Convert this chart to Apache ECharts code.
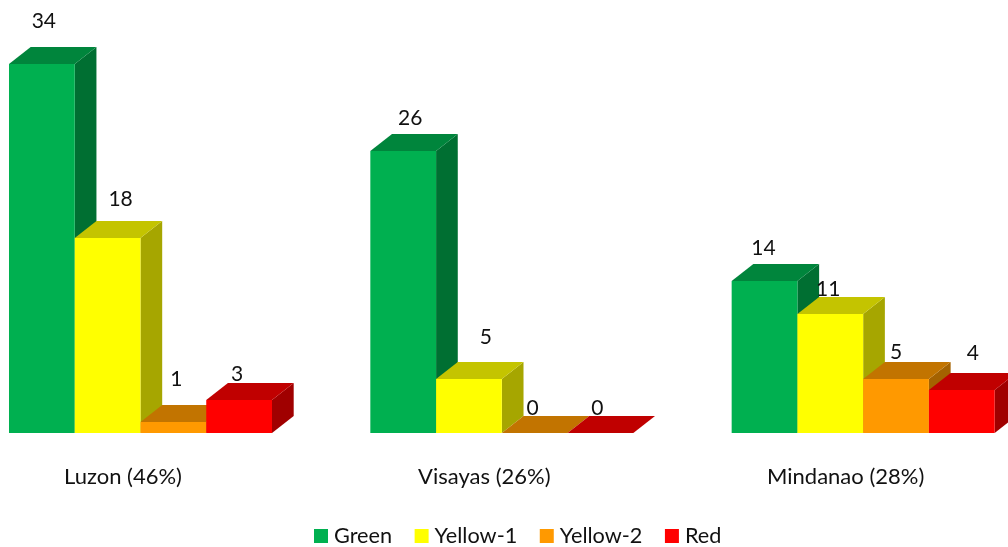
<!DOCTYPE html>
<html>
<head>
<meta charset="utf-8">
<style>html,body{margin:0;padding:0;background:#fff;overflow:hidden}#c{width:1008px;height:547px}</style>
<script src="https://cdn.jsdelivr.net/npm/echarts@6/dist/echarts.min.js"></script>
</head>
<body>
<div id="c"></div>
<script>
const categories = ['Luzon (46%)', 'Visayas (26%)', 'Mindanao (28%)'];
const green = [34, 26, 14];
const yellow1 = [18, 5, 11];
const yellow2 = [1, 0, 5];
const red = [3, 0, 4];

// Styling and layout, kept apart from the data
const FONT = 'Lato, "Open Sans", sans-serif';
const TEXT = '#111111';
const DX = 21.7, DY = 17, BAR = 65.75;
const looks = [
  { name: 'Green',    data: green,   front: '#00B050', top: '#00853C', side: '#006F32', nudge: [[2, -43], [7, -33], [-1, -33]] },
  { name: 'Yellow-1', data: yellow1, front: '#FFFF00', top: '#C4C400', side: '#A6A600', nudge: [[13, -39], [17, -42], [-2, -25]] },
  { name: 'Yellow-2', data: yellow2, front: '#FF9900', top: '#C27400', side: '#A46200', nudge: [[3, -43], [-2, -25], [0, -27]] },
  { name: 'Red',      data: red,     front: '#FF0000', top: '#C00000', side: '#A00000', nudge: [[-2, -26], [-3, -25], [11, -37]] }
];

function makeRender(look, idx) {
  return function (params, api) {
    const cat = api.value(0);
    const val = api.value(1);
    const base = api.coord([cat, 0]);
    const top = api.coord([cat, val]);
    const x0 = base[0] + (idx - 2) * BAR;
    const x1 = x0 + BAR;
    const y0 = Math.round(base[1]);
    const y1 = Math.round(top[1]);
    const n = look.nudge[cat];
    const children = [
      { type: 'polygon', shape: { points: [[x1, y1], [x1 + DX, y1 - DY], [x1 + DX, y0 - DY], [x1, y0]] }, style: { fill: look.side } },
      { type: 'polygon', shape: { points: [[x0, y1], [x0 + DX, y1 - DY], [x1 + DX, y1 - DY], [x1, y1]] }, style: { fill: look.top } }
    ];
    if (val > 0) {
      children.push({ type: 'rect', shape: { x: x0, y: y1, width: BAR, height: y0 - y1 }, style: { fill: look.front } });
    }
    children.push({
      type: 'text',
      style: {
        text: String(val), x: (x0 + x1) / 2 + n[0], y: y1 + n[1],
        align: 'center', verticalAlign: 'middle',
        font: '21px ' + FONT, fill: TEXT
      }
    });
    return { type: 'group', children: children };
  };
}

const chart = echarts.init(document.getElementById('c'), null, { renderer: 'canvas' });
chart.setOption({
  animation: false,
  backgroundColor: '#fff',
  grid: { left: -40.17, width: 1084, top: 53, height: 380, containLabel: false, outerBoundsMode: 'none' },
  xAxis: {
    type: 'category',
    data: categories,
    axisLine: { show: false },
    axisTick: { show: false },
    axisLabel: { color: TEXT, fontFamily: FONT, fontSize: 22, margin: 33, padding: [0, 35, 0, 0], interval: 0 }
  },
  yAxis: { type: 'value', min: 0, max: 35, show: false, splitLine: { show: false } },
  legend: {
    left: 309, top: 520, icon: 'rect', itemWidth: 14, itemHeight: 14, itemGap: 22.5,
    textStyle: { color: TEXT, fontFamily: FONT, fontSize: 21.7, padding: [0, 0, 0, 1] },
    data: looks.map(l => l.name)
  },
  series: looks.map((l, i) => ({
    type: 'custom',
    name: l.name,
    coordinateSystem: 'cartesian2d',
    itemStyle: { color: l.front },
    encode: { x: 0, y: 1 },
    clip: false,
    data: l.data.map((v, c) => [c, v]),
    renderItem: makeRender(l, i)
  }))
});
</script>
</body>
</html>
